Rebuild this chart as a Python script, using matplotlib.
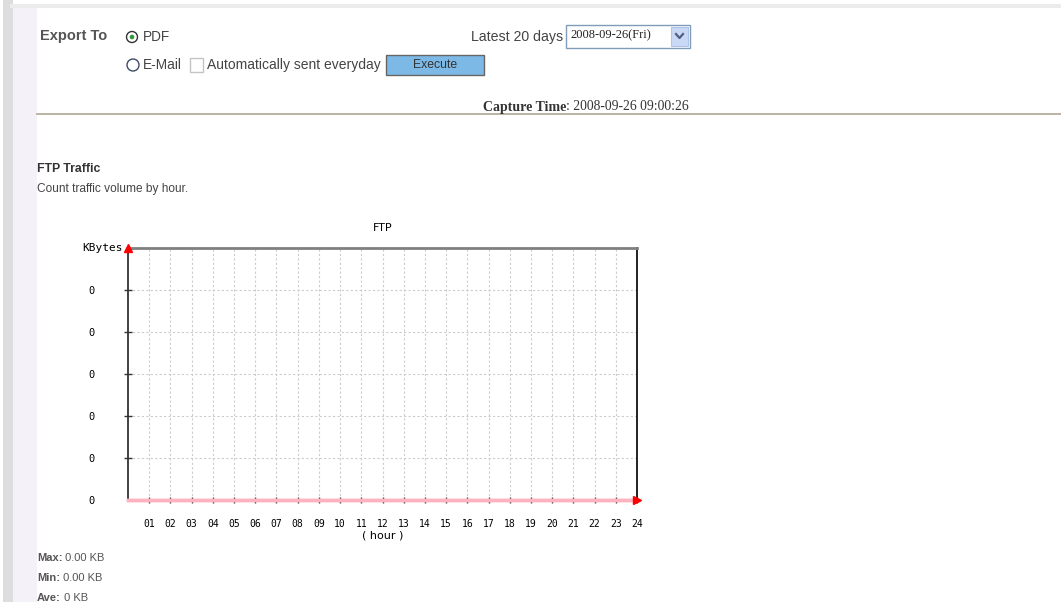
import matplotlib
matplotlib.use('Agg')
import matplotlib.pyplot as plt
from matplotlib.patches import Rectangle, Circle

# hourly FTP traffic (KBytes), all zero in the capture
hour_labels = ['01', '02', '03', '04', '05', '06', '07', '08', '09', '10', '11', '12',
               '13', '14', '15', '16', '17', '18', '19', '20', '21', '22', '23', '24']
traffic_kb = [0, 0, 0, 0, 0, 0, 0, 0, 0, 0, 0, 0,
              0, 0, 0, 0, 0, 0, 0, 0, 0, 0, 0, 0]
y_tick_labels = ['0', '0', '0', '0', '0', '0']
stat_names = ['Max:', 'Min:', 'Ave:']
stat_values = ['0.00 KB', '0.00 KB', '0 KB']
capture_time = '2008-09-26 09:00:26'
report_date = '2008-09-26(Fri)'

W, H = 1061, 602
fig = plt.figure(figsize=(W / 100, H / 100), dpi=100)
fig.patch.set_facecolor('white')

# page overlay in pixel coordinates
ui = fig.add_axes([0, 0, 1, 1], zorder=0)
ui.set_xlim(0, W)
ui.set_ylim(H, 0)
ui.set_axis_off()

sans = 'Liberation Sans'
grey = '#444444'

# page frame / shadows
ui.add_patch(Rectangle((3, 0), 10, H, color='#dddddd', lw=0))
ui.add_patch(Rectangle((10, 4), W - 10, 4, color='#ececec', lw=0))
ui.add_patch(Rectangle((13, 8), 24, H - 8, color='#f4f2f8', lw=0))
ui.plot([37, W], [114, 114], color='#b5ae9c', lw=1.3)

# export controls
ui.text(40, 36, 'Export To', fontsize=10.5, fontweight='bold', color='#555555',
        family=sans, va='center')
ui.add_patch(Circle((132, 37), 5.5, fill=False, ec='#333333', lw=1))
ui.add_patch(Circle((132, 37), 2.3, color='#2e9a3c', lw=0))
ui.text(143, 37, 'PDF', fontsize=9.8, color=grey, family=sans, va='center')
ui.add_patch(Circle((133, 65), 6, fill=False, ec='#3d4d66', lw=1))
ui.text(143, 65, 'E-Mail', fontsize=9.8, color=grey, family=sans, va='center')
ui.add_patch(Rectangle((190, 58), 13, 14, fill=False, ec='#c4c4c4', lw=1))
ui.text(207, 65, 'Automatically sent everyday', fontsize=10, color=grey,
        family=sans, va='center')
ui.add_patch(Rectangle((386, 55), 98, 20, fc='#7db9e6', ec='#666666', lw=1))
ui.text(435, 65, 'Execute', fontsize=8.8, color='#333333', family=sans,
        ha='center', va='center')

ui.text(563, 37, 'Latest 20 days', fontsize=10.2, color=grey, family=sans,
        ha='right', va='center')
ui.add_patch(Rectangle((566, 25), 124, 23, fc='white', ec='#7f9db9', lw=1))
ui.text(570, 35, report_date, fontsize=9, color='#222222', family='Liberation Serif',
        va='center')
ui.add_patch(Rectangle((671, 27), 17, 19, fc='#c9d8f5', ec='#b0c4ea', lw=0.8))
ui.plot([676, 679.5, 683], [34, 38, 34], color='#4d6185', lw=1.6)

ct = ui.text(483, 107, 'Capture Time', fontsize=10, fontweight='bold', color='#333333',
             family='Liberation Serif', va='center')
ui.annotate(': ' + capture_time, xycoords=ct, xy=(1, 0.5), va='center', fontsize=9.8,
            color='#333333', family='Liberation Serif')

ui.text(37, 169, 'FTP Traffic', fontsize=8.8, fontweight='bold', color='#333333',
        family=sans, va='center')
ui.text(37, 189, 'Count traffic volume by hour.', fontsize=8.6, color='#444444',
        family=sans, va='center')

for i, (name, val) in enumerate(zip(stat_names, stat_values)):
    y = 558 + 20 * i
    t = ui.text(37, y, name, fontsize=8, fontweight='bold', color='#555555',
                family=sans, va='center')
    ui.annotate(' ' + val, xycoords=t, xy=(1, 0.5), va='center', fontsize=8,
                color='#555555', family=sans)

# the chart
ax = fig.add_axes([128 / W, 1 - 500 / H, 509 / W, 252 / H], zorder=2)
ax.patch.set_alpha(0)
hours = list(range(1, len(hour_labels) + 1))
ax.plot([0] + hours, [traffic_kb[0]] + traffic_kb, color='#ffb3c0', lw=2.5,
        clip_on=False, zorder=3)
ax.set_xlim(0, 24)
ax.set_ylim(0, 6)

ax.set_xticks(hours)
ax.set_xticklabels(hour_labels, family='DejaVu Sans Mono', fontsize=7)
ax.set_yticks(range(len(y_tick_labels)))
ax.set_yticklabels(y_tick_labels, family='DejaVu Sans Mono', fontsize=7.5, ha='center')
ax.tick_params(axis='x', direction='inout', length=5, width=1, color='#333333', pad=11)
ax.tick_params(axis='y', direction='inout', length=6, width=1, color='#333333', pad=23)
ax.yaxis.get_major_ticks()[0].tick1line.set_visible(False)

ax.grid(True, color='#cccccc', linestyle=(0, (2, 2)), lw=0.8)
ax.spines['top'].set_color('#808080')
ax.spines['top'].set_linewidth(2)
ax.spines['right'].set_color('#111111')
ax.spines['right'].set_linewidth(1.3)
ax.spines['left'].set_color('#333333')
ax.spines['left'].set_linewidth(1.3)
ax.spines['bottom'].set_color('#ffb3c0')
ax.spines['bottom'].set_linewidth(2.5)

ax.plot([0], [6], marker='^', color='red', ms=6, clip_on=False, zorder=5)
ax.plot([24], [0], marker='>', color='red', ms=6, clip_on=False, zorder=5)

ax.text(-0.25, 6, 'KBytes', ha='right', va='center', fontsize=8,
        family='DejaVu Sans Mono')
ax.set_title('FTP', fontsize=8, family='DejaVu Sans', pad=12)
ax.set_xlabel('( hour )', fontsize=8, family='DejaVu Sans', labelpad=1)

fig.savefig('out.png', dpi=100)
